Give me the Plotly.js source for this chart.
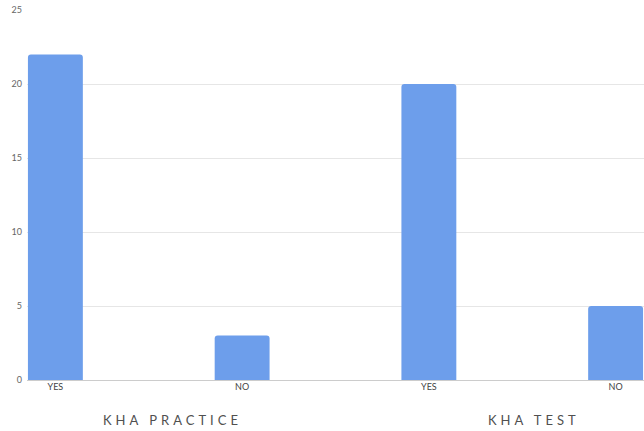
<!DOCTYPE html>
<html>
<head>
<meta charset="utf-8">
<script src="https://cdn.plot.ly/plotly-3.0.1.min.js"></script>
<style>
html,body{margin:0;padding:0;background:#fff;}
#chart{width:644px;height:431px;}
.annotation-text{letter-spacing:4px;}
</style>
</head>
<body>
<div id="chart"></div>
<script>
const groups = ["KHA PRACTICE", "KHA PRACTICE", "KHA TEST", "KHA TEST"];
const answers = ["YES", "NO", "YES", "NO"];
const counts = [22, 3, 20, 5];
const groupLabels = ["KHA PRACTICE", "KHA TEST"];
const groupLabelPos = [0.625, 2.565];

const keys = groups.map((g, i) => g + " " + answers[i]);

const trace = {
  type: "bar",
  x: keys,
  y: counts,
  width: 0.294,
  marker: {color: "#6d9eeb", cornerradius: 3},
  hoverinfo: "x+y"
};

const layout = {
  width: 644, height: 431,
  margin: {l: 27, r: 0, t: 10, b: 51},
  paper_bgcolor: "#fff",
  plot_bgcolor: "#fff",
  showlegend: false,
  font: {family: "Lato, 'Open Sans', sans-serif", color: "#555"},
  xaxis: {
    type: "category",
    range: [-0.152, 3.152],
    tickvals: keys,
    ticktext: answers,
    tickfont: {size: 9, color: "#444"},
    showgrid: false,
    ticks: "",
    showline: false,
    zeroline: false,
    fixedrange: true
  },
  yaxis: {
    range: [0, 25],
    dtick: 5,
    tickfont: {size: 9, color: "#666"},
    gridcolor: "#e6e6e6",
    zeroline: true,
    zerolinecolor: "#cccccc",
    zerolinewidth: 1,
    showline: false,
    ticks: "",
    ticklabelstandoff: 4,
    fixedrange: true
  },
  annotations: groupLabels.map((t, i) => ({
    text: t,
    x: groupLabelPos[i],
    xref: "x",
    y: -0.108,
    yref: "paper",
    xanchor: "center",
    yanchor: "middle",
    showarrow: false,
    font: {size: 13, color: "#505050", family: "Lato, 'Open Sans', sans-serif"}
  }))
};

Plotly.newPlot("chart", [trace], layout, {displayModeBar: false, staticPlot: true});
</script>
</body>
</html>
